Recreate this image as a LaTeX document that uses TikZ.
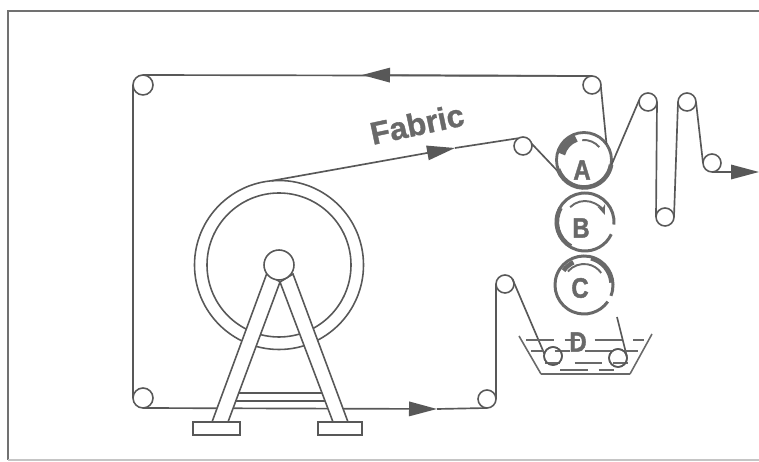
\documentclass[tikz,border=0pt]{standalone}
\usepackage{fontspec}
\setmainfont{Liberation Sans}
\newfontfamily\markfont[FakeStretch=0.85,BoldFeatures={FakeBold=1.5}]{Liberation Sans}
\newfontfamily\titlefont[BoldFeatures={FakeBold=1.2}]{Liberation Sans}
\usetikzlibrary{arrows.meta}
\definecolor{inkline}{RGB}{88,88,88}
\definecolor{inkmark}{RGB}{105,105,105}
\tikzset{
  fabric/.style={draw=inkline, line width=0.95pt},
  frameline/.style={draw=inkline!85, line width=0.95pt},
  roller/.style={circle, draw=inkline, fill=white, line width=0.9pt, inner sep=0pt, outer sep=0pt, minimum size=0.36cm},
  bigroller/.style={roller, draw=inkmark, line width=1.6pt, minimum size=1.1cm},
  padroller/.style={circle, inner sep=0pt, outer sep=0pt, minimum size=1.16cm},
  padline/.style={draw=inkmark, line width=1.7pt},
  spin/.style={draw=inkmark, line width=1.1pt},
  water/.style={draw=inkmark, line width=1.3pt, dash pattern=on 0.55cm off 0.22cm on 0.3cm off 0.3cm},
  flowtip/.style={-{Triangle[length=0.56cm,width=0.29cm,fill=inkline]}},
  letter/.style={text=inkmark, font=\markfont\bfseries\fontsize{16}{16}\selectfont},
  legbar/.style={draw=inkline, fill=white, line width=0.9pt}
}

\begin{document}
\begin{tikzpicture}[scale=1.0]
  \useasboundingbox (0,0) rectangle (15.18,9.24);
  %% 1. Frame
  \draw[frameline] (0.16,0.04) -- (0.16,9.02) -- (15.18,9.02);
  \draw[draw=inkline!35, line width=0.8pt] (0.16,0.04) -- (15.18,0.04);
  %% 2. Rollers
  \node[roller, minimum size=0.4cm] (rollerTL) at (2.86,7.54) {};
  \node[roller, minimum size=0.4cm] (rollerBL) at (2.86,1.28) {};
  \node[roller] (rollerTR) at (11.84,7.54) {};
  \node[roller] (rollerFeed) at (10.46,6.32) {};
  \node[roller] (rollerUpA) at (12.96,7.20) {};
  \node[roller] (rollerUpB) at (13.74,7.20) {};
  \node[roller] (rollerLow) at (13.30,4.90) {};
  \node[roller] (rollerExit) at (14.24,5.98) {};
  \node[roller] (rollerGuideT) at (10.10,3.56) {};
  \node[roller] (rollerGuideB) at (9.74,1.26) {};
  \node[roller] (rollerBathA) at (11.06,2.12) {};
  \node[roller] (rollerBathB) at (12.36,2.08) {};
  \node[bigroller] (rollerA) at (11.68,6.04) {};
  \node[padroller] (rollerB) at (11.70,4.80) {};
  \node[padroller] (rollerC) at (11.68,3.54) {};
  %% 3. Beam
  \node[roller, fill=none, minimum size=3.38cm] (beamOuter) at (5.58,3.94) {};
  \node[roller, fill=none, minimum size=2.88cm] (beamInner) at (5.58,3.94) {};
  %% 4. Fabric path
  \coordinate (arrowTop) at (7.24,7.74);
  \coordinate (arrowMid) at (9.10,6.28);
  \coordinate (arrowLow) at (8.74,1.06);
  \coordinate (arrowExit) at (15.18,5.80);
  \coordinate (bathEnd) at (12.34,2.90);
  \draw[fabric] (rollerTL.west) -- (rollerBL.west);
  \draw[fabric] (rollerTL.north) -- (rollerTR.north);
  \draw[fabric, flowtip] (rollerTR.north) -- (arrowTop);
  \draw[fabric, flowtip] (beamOuter.95) -- (arrowMid);
  \draw[fabric] (arrowMid) -- (rollerFeed.120);
  \draw[fabric] (rollerFeed.15) -- (rollerA.210);
  \draw[fabric] (rollerTR.-10) -- (rollerA.35);
  \draw[fabric] (rollerA.-15) -- (rollerUpA.165);
  \draw[fabric] (rollerUpA.east) -- (rollerLow.west);
  \draw[fabric] (rollerLow.east) -- (rollerUpB.west);
  \draw[fabric] (rollerUpB.east) -- (rollerExit.west);
  \draw[fabric, flowtip] (rollerExit.south) -- (arrowExit);
  \draw[fabric, flowtip] (rollerBL.south) -- (arrowLow);
  \draw[fabric] (arrowLow) -- (rollerGuideB.south);
  \draw[fabric] (rollerGuideB.east) -- (rollerGuideT.west);
  \draw[fabric] (rollerGuideT.35) -- (rollerBathA.165);
  \draw[fabric] (rollerBathB.10) -- (bathEnd);
  %% 5. Stand
  \draw[fabric] (4.76,1.38) -- (6.44,1.38);
  \draw[fabric] (4.72,1.22) -- (6.54,1.22);
  \filldraw[legbar] (5.34,3.78) -- (4.24,0.80) -- (4.56,0.80) -- (5.60,3.60) -- cycle;
  \filldraw[legbar] (5.86,3.76) -- (6.96,0.80) -- (6.66,0.80) -- (5.60,3.60) -- cycle;
  \filldraw[legbar] (3.86,0.54) rectangle (4.80,0.80);
  \filldraw[legbar] (6.36,0.54) rectangle (7.24,0.80);
  \node[roller, minimum size=0.6cm] (beamHub) at (5.58,3.94) {};
  %% 6. Pad rollers
  \draw[padline, line width=2.6pt] (rollerA.200) arc (200:350:0.55);
  \draw[padline, line width=4pt] ([shift=(110:0.46)]rollerA.center) arc (110:165:0.46);
  \draw[padline] ([shift=(-5:0.58)]rollerB.center) arc (-5:335:0.58);
  \draw[padline] ([shift=(-22:0.58)]rollerC.center) arc (-22:325:0.58);
  \draw[padline, line width=2.4pt] ([shift=(5:0.55)]rollerC.center) arc (5:75:0.55);
  \draw[padline, line width=2.6pt] ([shift=(115:0.5)]rollerC.center) arc (115:145:0.5);
  \draw[padline, line width=2.4pt] ([shift=(150:0.56)]rollerB.center) arc (150:240:0.56);
  \draw[spin] ([shift=(95:0.4)]rollerA.center) arc (95:40:0.4);
  \draw[spin, -{Stealth[length=0.2cm,width=0.16cm]}] ([shift=(135:0.42)]rollerB.center) arc (135:20:0.42);
  \draw[spin] ([shift=(140:0.42)]rollerC.center) arc (140:35:0.42);
  %% 7. Bath
  \draw[water] (10.52,2.44) -- (12.88,2.44);
  \draw[water, dash phase=0.3cm] (10.62,2.22) -- (12.82,2.22);
  \draw[water, dash phase=0.6cm] (10.72,1.98) -- (12.72,1.98);
  \draw[water] (11.2,1.84) -- (12.5,1.84);
  \draw[padline, line width=0.9pt] (10.38,2.52) -- (10.82,1.76);
  \draw[padline, line width=1.3pt] (10.82,1.76) -- (12.60,1.76);
  \draw[padline, line width=0.9pt] (12.60,1.76) -- (13.04,2.56);
  \node[roller, fill=none] at (rollerBathA) {};
  \node[roller, fill=none] at (rollerBathB) {};
  %% 8. Labels
  \node[letter] (labelA) at (11.64,5.84) {A};
  \node[letter] (labelB) at (11.62,4.68) {B};
  \node[letter] (labelC) at (11.60,3.48) {C};
  \node[letter] (labelD) at (11.56,2.40) {D};
  \node[text=inkmark, font=\titlefont\bfseries\fontsize{18}{18}\selectfont, rotate=12] (labelFabric) at (8.34,6.76) {Fabric};
\end{tikzpicture}
\end{document}
